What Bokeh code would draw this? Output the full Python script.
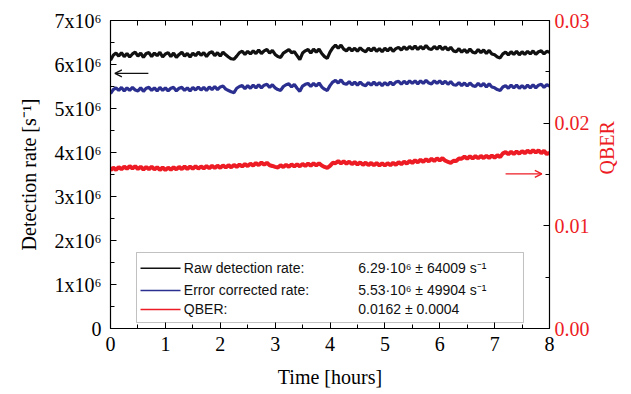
import math
from bokeh.plotting import figure
from bokeh.models import (LinearAxis, Range1d, SingleIntervalTicker, FixedTicker,
                          BoxAnnotation, Arrow, OpenHead)
from bokeh.core.properties import value
from bokeh.embed import file_html
from bokeh.resources import INLINE

# ---------------- data ----------------
time_h = [round(i * 0.05, 2) for i in range(161)]

raw_rate_1e6 = [
    6.10, 6.21, 6.26, 6.19, 6.27, 6.18, 6.25, 6.17, 6.24, 6.28,
    6.19, 6.26, 6.16, 6.25, 6.27, 6.18, 6.26, 6.20, 6.28, 6.17,
    6.24, 6.27, 6.18, 6.26, 6.16, 6.23, 6.28, 6.19, 6.25, 6.17,
    6.26, 6.20, 6.28, 6.21, 6.27, 6.18, 6.26, 6.29, 6.20, 6.27,
    6.19, 6.28, 6.22, 6.17, 6.13, 6.12, 6.19, 6.27, 6.30, 6.23,
    6.30, 6.24, 6.31, 6.25, 6.33, 6.25, 6.31, 6.34, 6.26, 6.32,
    6.23, 6.18, 6.16, 6.26, 6.30, 6.34, 6.27, 6.29, 6.20, 6.11,
    6.26, 6.31, 6.34, 6.26, 6.35, 6.28, 6.35, 6.25, 6.18, 6.14,
    6.28, 6.38, 6.44, 6.37, 6.44, 6.35, 6.31, 6.38, 6.31, 6.37,
    6.30, 6.38, 6.32, 6.29, 6.37, 6.31, 6.38, 6.30, 6.36, 6.29,
    6.37, 6.31, 6.38, 6.30, 6.36, 6.39, 6.33, 6.40, 6.34, 6.41,
    6.35, 6.42, 6.34, 6.41, 6.35, 6.43, 6.36, 6.34, 6.41, 6.35,
    6.42, 6.34, 6.40, 6.33, 6.39, 6.31, 6.29, 6.36, 6.28, 6.34,
    6.27, 6.35, 6.28, 6.26, 6.34, 6.27, 6.33, 6.25, 6.32, 6.24,
    6.22, 6.17, 6.15, 6.24, 6.28, 6.22, 6.29, 6.23, 6.30, 6.22,
    6.29, 6.23, 6.30, 6.24, 6.31, 6.23, 6.29, 6.31, 6.24, 6.30,
    6.28,
]

corrected_rate_1e6 = [
    5.34, 5.43, 5.47, 5.41, 5.48, 5.40, 5.47, 5.41, 5.48, 5.42,
    5.40, 5.47, 5.39, 5.46, 5.48, 5.41, 5.47, 5.40, 5.48, 5.41,
    5.47, 5.40, 5.46, 5.48, 5.40, 5.46, 5.48, 5.41, 5.47, 5.40,
    5.48, 5.42, 5.49, 5.42, 5.48, 5.41, 5.49, 5.43, 5.50, 5.43,
    5.49, 5.51, 5.44, 5.41, 5.38, 5.36, 5.46, 5.50, 5.52, 5.45,
    5.52, 5.46, 5.53, 5.47, 5.54, 5.47, 5.53, 5.55, 5.48, 5.54,
    5.47, 5.43, 5.41, 5.50, 5.54, 5.56, 5.49, 5.55, 5.46, 5.39,
    5.51, 5.55, 5.57, 5.50, 5.57, 5.51, 5.58, 5.49, 5.44, 5.41,
    5.52, 5.60, 5.64, 5.58, 5.65, 5.57, 5.55, 5.61, 5.54, 5.60,
    5.53, 5.60, 5.54, 5.52, 5.59, 5.53, 5.60, 5.53, 5.59, 5.52,
    5.59, 5.53, 5.60, 5.54, 5.60, 5.62, 5.55, 5.62, 5.56, 5.63,
    5.57, 5.63, 5.56, 5.63, 5.57, 5.64, 5.58, 5.56, 5.63, 5.57,
    5.63, 5.56, 5.62, 5.55, 5.61, 5.54, 5.53, 5.59, 5.52, 5.58,
    5.51, 5.58, 5.52, 5.50, 5.57, 5.51, 5.57, 5.49, 5.56, 5.49,
    5.47, 5.43, 5.41, 5.49, 5.52, 5.46, 5.53, 5.47, 5.53, 5.46,
    5.52, 5.46, 5.53, 5.47, 5.54, 5.47, 5.53, 5.55, 5.48, 5.54,
    5.51,
]

qber = [
    0.01542, 0.01566, 0.01546, 0.01572, 0.01551, 0.01577, 0.01556, 0.01582, 0.01559, 0.01580,
    0.01554, 0.01575, 0.01549, 0.01573, 0.01552, 0.01576, 0.01550, 0.01571, 0.01545, 0.01568,
    0.01543, 0.01566, 0.01547, 0.01571, 0.01550, 0.01574, 0.01553, 0.01577, 0.01555, 0.01576,
    0.01557, 0.01580, 0.01558, 0.01578, 0.01560, 0.01581, 0.01561, 0.01584, 0.01563, 0.01586,
    0.01565, 0.01588, 0.01568, 0.01591, 0.01570, 0.01593, 0.01574, 0.01597, 0.01578, 0.01601,
    0.01582, 0.01606, 0.01587, 0.01611, 0.01592, 0.01616, 0.01596, 0.01614, 0.01590, 0.01583,
    0.01574, 0.01568, 0.01590, 0.01572, 0.01595, 0.01575, 0.01598, 0.01578, 0.01600, 0.01580,
    0.01603, 0.01583, 0.01606, 0.01586, 0.01609, 0.01589, 0.01610, 0.01588, 0.01574, 0.01565,
    0.01584, 0.01614, 0.01610, 0.01630, 0.01609, 0.01628, 0.01605, 0.01625, 0.01601, 0.01621,
    0.01597, 0.01618, 0.01594, 0.01615, 0.01592, 0.01613, 0.01590, 0.01611, 0.01588, 0.01609,
    0.01587, 0.01610, 0.01590, 0.01614, 0.01595, 0.01620, 0.01600, 0.01626, 0.01606, 0.01632,
    0.01612, 0.01639, 0.01619, 0.01644, 0.01623, 0.01649, 0.01628, 0.01653, 0.01632, 0.01657,
    0.01636, 0.01660, 0.01634, 0.01624, 0.01614, 0.01634, 0.01632, 0.01656, 0.01654, 0.01674,
    0.01654, 0.01677, 0.01656, 0.01679, 0.01658, 0.01681, 0.01660, 0.01683, 0.01662, 0.01685,
    0.01664, 0.01688, 0.01669, 0.01706, 0.01718, 0.01697, 0.01721, 0.01700, 0.01724, 0.01703,
    0.01728, 0.01707, 0.01733, 0.01712, 0.01737, 0.01714, 0.01735, 0.01708, 0.01730, 0.01699,
    0.01712,
]

left_tick_values = [0, 1, 2, 3, 4, 5, 6, 7]
left_tick_labels = ["0", "1x10\u2076", "2x10\u2076", "3x10\u2076", "4x10\u2076",
                    "5x10\u2076", "6x10\u2076", "7x10\u2076"]
right_tick_values = [0.0, 0.01, 0.02, 0.03]
right_tick_labels = ["0.00", "0.01", "0.02", "0.03"]
top_tick_values = [i * 0.5 for i in range(17)]

legend_names = ["Raw detection rate:", "Error corrected rate:", "QBER:"]
legend_values = ["6.29\u00b710\u2076 \u00b1 64009 s\u207b\u00b9",
                 "5.53\u00b710\u2076 \u00b1 49904 s\u207b\u00b9",
                 "0.0162 \u00b1 0.0004"]

BLACK = "#111111"
BLUE = "#2b2f8f"
RED = "#ed1c24"
SERIF = "Liberation Serif"
SANS = "Liberation Sans"

# ---------------- figure ----------------
p = figure(width=631, height=394, x_range=Range1d(0, 8), y_range=Range1d(0, 7),
           output_backend="svg", toolbar_location=None,
           min_border_left=110, min_border_right=82, min_border_top=20,
           min_border_bottom=66)
p.extra_y_ranges = {"qber": Range1d(0, 0.03)}
p.xgrid.visible = False
p.ygrid.visible = False
p.outline_line_color = None
p.background_fill_color = "white"
p.border_fill_color = "white"


def style_axis(ax):
    ax.major_tick_in = 6
    ax.major_tick_out = 0
    ax.minor_tick_in = 4
    ax.minor_tick_out = 0
    ax.axis_line_color = "black"
    ax.axis_line_width = 1.2
    ax.major_tick_line_color = "black"
    ax.minor_tick_line_color = "black"
    ax.major_label_text_font = SERIF
    ax.major_label_text_font_size = "20px"
    ax.major_label_text_color = "black"
    ax.axis_label_text_font = SERIF
    ax.axis_label_text_font_size = "20px"
    ax.axis_label_text_font_style = "normal"
    ax.axis_label_text_color = "black"


# bottom axis
xa = p.xaxis[0]
xa.ticker = SingleIntervalTicker(interval=1, num_minor_ticks=2)
style_axis(xa)
xa.axis_label = "Time [hours]"
xa.major_label_standoff = 8
xa.axis_label_standoff = 12

# left axis
ya = p.yaxis[0]
ya.ticker = SingleIntervalTicker(interval=1, num_minor_ticks=2)
style_axis(ya)
ya.major_label_overrides = {v: s for v, s in zip(left_tick_values, left_tick_labels)}
ya.axis_label = "Detection rate [s\u207b\u00b9]"
ya.major_label_standoff = 9
ya.axis_label_standoff = 12

# right axis
ra = LinearAxis(y_range_name="qber",
                ticker=SingleIntervalTicker(interval=0.01, num_minor_ticks=2))
style_axis(ra)
ra.major_label_overrides = {v: s for v, s in zip(right_tick_values, right_tick_labels)}
ra.major_label_text_color = RED
ra.axis_label = "QBER"
ra.axis_label_text_color = RED
ra.major_label_standoff = 5
ra.axis_label_standoff = 14
try:
    ra.axis_label_orientation = math.pi / 2
except Exception:
    pass
p.add_layout(ra, "right")

# top axis (ticks only, no labels)
ta = LinearAxis(ticker=FixedTicker(ticks=[], minor_ticks=top_tick_values))
style_axis(ta)
ta.minor_tick_in = 5
p.add_layout(ta, "above")

# ---------------- series ----------------
p.line(time_h, raw_rate_1e6, line_color=BLACK, line_width=3.2)
p.line(time_h, corrected_rate_1e6, line_color=BLUE, line_width=3.2)
p.line(time_h, qber, line_color=RED, line_width=4.0, y_range_name="qber")

# ---------------- arrows ----------------
p.add_layout(Arrow(end=OpenHead(size=7, line_color=BLACK, line_width=1.3),
                   x_start=0.69, y_start=5.80, x_end=0.08, y_end=5.80,
                   line_color=BLACK, line_width=1.3))
p.add_layout(Arrow(end=OpenHead(size=7, line_color=RED, line_width=1.3),
                   x_start=7.20, y_start=0.01506, x_end=7.86, y_end=0.01506,
                   line_color=RED, line_width=1.3, y_range_name="qber"))

# ---------------- legend ----------------
p.add_layout(BoxAnnotation(left=0.474, right=7.526, bottom=0.136, top=1.727,
                           fill_color="white", fill_alpha=1.0,
                           line_color="#333333", line_width=1.0, level="underlay"))
row_y = [1.370, 0.864, 0.432]
colors = [BLACK, BLUE, RED]
for yy, col, name, val in zip(row_y, colors, legend_names, legend_values):
    p.line([0.547, 1.276], [yy, yy], line_color=col, line_width=1.5)
    p.text(x=[1.336], y=[yy], text=[name], text_font=value(SANS),
           text_font_size="14px", text_baseline="middle", text_align="left",
           text_color="#111111")
    p.text(x=[4.514], y=[yy], text=[val], text_font=value(SANS),
           text_font_size="14px", text_baseline="middle", text_align="left",
           text_color="#111111")

open("out.html", "w").write(file_html(p, INLINE))
